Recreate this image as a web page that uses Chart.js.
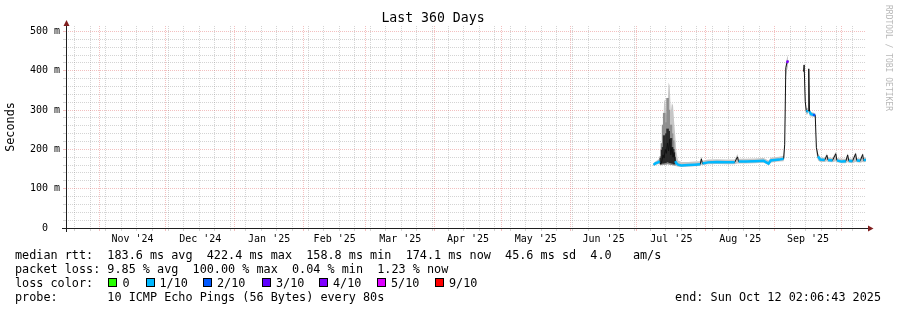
<!DOCTYPE html>
<html>
<head>
<meta charset="utf-8">
<title>Last 360 Days</title>
<script src="https://cdn.jsdelivr.net/npm/chart.js@4.4.1/dist/chart.umd.min.js"></script>
<style>
  html, body { margin: 0; padding: 0; background: #fff; }
  #wrap { position: relative; width: 897px; height: 310px; font-family: 'DejaVu Sans Mono', monospace; color: #000; }
  #wrap canvas { position: absolute; left: 0; top: 0; }
  .row { position: absolute; left: 15px; font-size: 11.8px; line-height: 14px; white-space: pre; }
  .sq { position: absolute; top: 278px; width: 7px; height: 7px; border: 1px solid #000; }
  .key { position: absolute; top: 275.5px; font-size: 11.8px; line-height: 14px; white-space: pre; }
  #end { position: absolute; right: 16px; top: 289.5px; font-size: 11.8px; line-height: 14px; white-space: pre; }
  #mark { position: absolute; left: 884px; top: 5px; font-size: 8px; line-height: 9px; color: #b8b8b8; writing-mode: vertical-rl; white-space: pre; }
</style>
</head>
<body>
<div id="wrap">
  <canvas id="graph" width="897" height="310"></canvas>
  <div class="row" style="top:247.5px">median rtt:  183.6 ms avg  422.4 ms max  158.8 ms min  174.1 ms now  45.6 ms sd  4.0   am/s</div>
  <div class="row" style="top:261.5px">packet loss: 9.85 % avg  100.00 % max  0.04 % min  1.23 % now</div>
  <div class="row" style="top:275.5px">loss color:</div>
  <div id="keys"></div>
  <div class="row" style="top:289.5px">probe:       10 ICMP Echo Pings (56 Bytes) every 80s</div>
  <div id="end">end: Sun Oct 12 02:06:43 2025</div>
  <div id="mark">RRDTOOL / TOBI OETIKER</div>
</div>
<script>
// time window
var endTime = Date.UTC(2025, 9, 12, 2, 6, 43);
var spanDays = 360;
var startTime = endTime - spanDays * 86400000;

// x axis: month starts and the labels centred in each month
var monthStarts = ['2024-11', '2024-12', '2025-01', '2025-02', '2025-03', '2025-04',
  '2025-05', '2025-06', '2025-07', '2025-08', '2025-09', '2025-10'];
var monthLabels = ["Nov '24", "Dec '24", "Jan '25", "Feb '25", "Mar '25", "Apr '25",
  "May '25", "Jun '25", "Jul '25", "Aug '25", "Sep '25"];

// y axis labels (ms)
var yTickValues = [0, 100, 200, 300, 400, 500];
var yTickLabels = ['0  ', '100 m', '200 m', '300 m', '400 m', '500 m'];

// median rtt (ms), loss (tenths) and smoke range
var times = ['2025-07-08T12', '2025-07-09T12', '2025-07-10T12', '2025-07-11T06', '2025-07-11T18',
  '2025-07-12T06', '2025-07-12T18', '2025-07-13T06', '2025-07-13T18', '2025-07-14T06',
  '2025-07-14T18', '2025-07-15T06', '2025-07-15T18', '2025-07-16T06', '2025-07-16T18',
  '2025-07-17T06', '2025-07-17T18', '2025-07-18T06', '2025-07-18T18', '2025-07-19T12',
  '2025-07-21T00', '2025-07-24T00', '2025-07-27T00', '2025-07-29T12', '2025-07-30T00',
  '2025-07-30T12', '2025-08-02T00', '2025-08-06T00', '2025-08-10T00', '2025-08-14T00',
  '2025-08-15T06', '2025-08-15T18', '2025-08-19T00', '2025-08-23T00', '2025-08-27T00',
  '2025-08-29T06', '2025-08-30T06', '2025-09-01T00', '2025-09-03T00', '2025-09-05T00',
  '2025-09-05T12', '2025-09-06T00', '2025-09-06T12', '2025-09-07T00', '2025-09-07T12',
  '2025-09-13T18', '2025-09-14T00', '2025-09-14T06', '2025-09-14T18', '2025-09-15T06',
  '2025-09-16T00', '2025-09-16T08', '2025-09-16T16', '2025-09-17T06', '2025-09-18T06',
  '2025-09-19T06', '2025-09-19T18', '2025-09-20T12', '2025-09-21T12', '2025-09-23T12',
  '2025-09-24T12', '2025-09-25T00', '2025-09-27T00', '2025-09-28T12', '2025-09-29T00',
  '2025-10-01T00', '2025-10-03T00', '2025-10-03T20', '2025-10-04T08', '2025-10-06T00',
  '2025-10-07T10', '2025-10-07T22', '2025-10-09T12', '2025-10-10T14', '2025-10-11T00',
  '2025-10-12T02'];
var medianRtt = [161, 165, 167, 170, 162,
  171, 186, 178, 200, 190,
  216, 196, 226, 186, 205,
  180, 192, 170, 165, 161,
  159, 160, 161, 162, 176,
  164, 167, 168, 167, 167,
  181, 169, 169, 170, 171,
  164, 172, 173, 174, 176,
  212, 408, 420, 426, null,
  null, 398, 415, 322, 296,
  298, 405, 296, 290, 288,
  287, 205, 182, 174, 173,
  185, 173, 172, 189, 172,
  169, 170, 186, 171, 170,
  189, 172, 171, 187, 172,
  174];
var lossTenths = [1, 1, 1, 1, 1,
  1, 1, 2, 1, 1,
  2, 1, 2, 1, 1,
  1, 1, 1, 1, 1,
  1, 1, 1, 1, 1,
  1, 1, 1, 1, 1,
  1, 1, 1, 1, 1,
  1, 1, 1, 1, 1,
  1, 2, 3, 4, 9,
  9, 9, 1, 1, 1,
  1, 1, 1, 1, 1,
  2, 1, 1, 1, 1,
  1, 1, 1, 1, 1,
  1, 1, 1, 1, 1,
  1, 1, 1, 1, 1,
  1];
var smokeMin = [158, 160, 162, 164, 158,
  160, 162, 160, 162, 160,
  163, 162, 164, 160, 161,
  160, 160, 158, 157, 156,
  155, 156, 157, 158, 160,
  160, 162, 163, 162, 162,
  164, 164, 164, 165, 166,
  160, 166, 168, 169, 170,
  180, 380, 400, 410, null,
  null, 390, 400, 300, 288,
  290, 380, 285, 284, 283,
  282, 190, 172, 168, 168,
  170, 168, 167, 170, 167,
  165, 165, 168, 166, 165,
  168, 167, 166, 168, 167,
  168];
var smokeMax = [166, 170, 174, 178, 172,
  200, 250, 322, 328, 285,
  305, 370, 362, 295, 318,
  312, 270, 235, 195, 172,
  168, 168, 169, 170, 182,
  171, 174, 175, 174, 174,
  188, 176, 176, 177, 178,
  172, 179, 180, 181, 184,
  240, 420, 432, 440, null,
  null, 405, 420, 335, 305,
  306, 412, 305, 296, 294,
  292, 215, 190, 180, 179,
  190, 180, 178, 194, 178,
  176, 176, 190, 177, 176,
  193, 178, 177, 191, 178,
  180];

// denser smoke during the July burst: [low, high] in ms
var burstTimes = ['2025-07-12T06', '2025-07-12T18', '2025-07-13T06', '2025-07-13T18', '2025-07-14T06',
  '2025-07-14T18', '2025-07-15T06', '2025-07-15T18', '2025-07-16T06', '2025-07-16T18',
  '2025-07-17T06', '2025-07-17T18', '2025-07-18T06'];
var burstMid = [[162, 182], [163, 215], [162, 262], [163, 292], [162, 250],
  [164, 268], [163, 330], [165, 300], [162, 245], [162, 262],
  [161, 240], [161, 222], [160, 192]];
var burstCore = [[165, 178], [166, 198], [165, 205], [168, 235], [166, 215],
  [170, 240], [168, 252], [170, 246], [166, 212], [167, 228],
  [165, 205], [165, 200], [163, 180]];

// loss colours
var lossKeys = [0, 1, 2, 3, 4, 5, 9];
var lossNames = ['0', '1/10', '2/10', '3/10', '4/10', '5/10', '9/10'];
var lossColors = { 0: '#26ff00', 1: '#00b8ff', 2: '#0059ff', 3: '#5e00ff', 4: '#7e00ff', 5: '#dd00ff', 9: '#ff0000' };

var MINOR = 'rgba(143,143,143,0.38)';
var MAJOR = 'rgba(222,79,79,0.36)';
var FONT = "'DejaVu Sans Mono', monospace";

// legend squares
var keyPos = [[108, 122.5], [146, 159.5], [203, 217], [262, 276], [319, 333], [377, 391], [435, 449]];
var keysDiv = document.getElementById('keys');
lossKeys.forEach(function (k, i) {
  var sq = document.createElement('div');
  sq.className = 'sq';
  sq.style.left = keyPos[i][0] + 'px';
  sq.style.background = lossColors[k];
  keysDiv.appendChild(sq);
  var lb = document.createElement('div');
  lb.className = 'key';
  lb.style.left = keyPos[i][1] + 'px';
  lb.textContent = lossNames[i];
  keysDiv.appendChild(lb);
});

function ms(t) { return Date.parse(t + ':00Z'); }
function monthMs(m) { var p = m.split('-'); return Date.UTC(+p[0], +p[1] - 1, 1); }

// x ticks: weekly lines, month lines, month labels
var tickKind = new Map();
var tickText = new Map();
(function () {
  var d = new Date(startTime);
  var t = Date.UTC(d.getUTCFullYear(), d.getUTCMonth(), d.getUTCDate());
  while (new Date(t).getUTCDay() !== 1 || t < startTime) t += 86400000;
  for (; t <= endTime; t += 7 * 86400000) tickKind.set(t, 'week');
  for (var i = 0; i < monthStarts.length; i++) {
    var m = monthMs(monthStarts[i]);
    if (m > startTime && m < endTime) tickKind.set(m, 'month');
    if (i < monthLabels.length) {
      var mid = (m + monthMs(monthStarts[i + 1])) / 2;
      if (mid > startTime && mid < endTime) {
        tickKind.set(mid, 'label');
        tickText.set(mid, monthLabels[i]);
      }
    }
  }
})();

var medianPts = times.map(function (t, i) { return { x: ms(t), y: medianRtt[i] }; });

var axesPlugin = {
  id: 'rrdAxes',
  afterDatasetsDraw: function (chart) {
    var ctx = chart.ctx, a = chart.chartArea;
    ctx.save();
    ctx.strokeStyle = '#1f1f1f';
    ctx.lineWidth = 1;
    ctx.beginPath();
    ctx.moveTo(a.left - 4, a.bottom + 0.5);
    ctx.lineTo(a.right + 3, a.bottom + 0.5);
    ctx.moveTo(a.left + 0.5, a.bottom + 4);
    ctx.lineTo(a.left + 0.5, a.top - 2);
    ctx.stroke();
    ctx.fillStyle = '#801f1f';
    ctx.beginPath();
    ctx.moveTo(a.right + 2, a.bottom - 2.5);
    ctx.lineTo(a.right + 7.5, a.bottom + 0.5);
    ctx.lineTo(a.right + 2, a.bottom + 3.5);
    ctx.closePath();
    ctx.fill();
    ctx.beginPath();
    ctx.moveTo(a.left - 2.5, a.top);
    ctx.lineTo(a.left + 0.5, a.top - 6);
    ctx.lineTo(a.left + 3.5, a.top);
    ctx.closePath();
    ctx.fill();
    ctx.restore();
  }
};

new Chart(document.getElementById('graph'), {
  type: 'line',
  data: {
    datasets: [
      {
        label: 'median (loss colour)',
        data: medianPts,
        borderWidth: 2.5,
        borderColor: lossColors[1],
        pointRadius: 0,
        fill: false,
        segment: {
          borderColor: function (c) {
            var dy = Math.abs(c.p1.y - c.p0.y), dx = Math.abs(c.p1.x - c.p0.x);
            if (dy > 2.5 && dy > dx * 1.5) return 'transparent';
            return lossColors[lossTenths[c.p1DataIndex]];
          }
        }
      },
      {
        label: 'median',
        data: medianPts,
        borderWidth: 1,
        borderColor: '#111111',
        pointRadius: 0,
        fill: false
      },
      {
        type: 'bar',
        label: 'smoke core',
        data: burstTimes.map(function (t, i) { return { x: ms(t), y: burstCore[i] }; }),
        backgroundColor: '#2a2a2a',
        barThickness: 2,
        stack: 'smoke'
      },
      {
        type: 'bar',
        label: 'smoke mid',
        data: burstTimes.map(function (t, i) { return { x: ms(t), y: burstMid[i] }; }),
        backgroundColor: '#8e8e8e',
        barThickness: 2,
        stack: 'smoke'
      },
      {
        label: 'smoke max',
        data: times.map(function (t, i) { return { x: ms(t), y: smokeMax[i] }; }),
        borderWidth: 0,
        pointRadius: 0,
        backgroundColor: '#c6c6c6',
        fill: 5
      },
      {
        label: 'smoke min',
        data: times.map(function (t, i) { return { x: ms(t), y: smokeMin[i] }; }),
        borderWidth: 0,
        pointRadius: 0,
        fill: false
      }
    ]
  },
  options: {
    responsive: false,
    animation: false,
    events: [],
    layout: { padding: { left: 0, right: 31, top: 0, bottom: 0 } },
    plugins: {
      legend: { display: false },
      tooltip: { enabled: false },
      title: {
        display: true,
        text: 'Last 360 Days',
        color: '#000',
        font: { family: FONT, size: 13.2, weight: 'normal', lineHeight: 1 },
        padding: { top: 12.4, bottom: 0.4 }
      }
    },
    scales: {
      x: {
        type: 'linear',
        min: startTime,
        max: endTime,
        offset: false,
        stacked: false,
        afterFit: function (s) { s.height = 82; },
        afterBuildTicks: function (s) {
          s.ticks = Array.from(tickKind.keys()).sort(function (a, b) { return a - b; })
            .map(function (v) { return { value: v }; });
        },
        ticks: {
          autoSkip: false,
          maxRotation: 0,
          minRotation: 0,
          padding: 2,
          color: '#000',
          font: { family: FONT, size: 10 },
          callback: function (v) { return tickText.get(v) || ''; }
        },
        grid: {
          offset: false,
          tickLength: 3,
          lineWidth: 1,
          color: function (c) {
            var k = c.tick && tickKind.get(c.tick.value);
            if (k === 'month') return MAJOR;
            if (k === 'week') return MINOR;
            return 'transparent';
          }
        },
        border: { display: false, dash: [1, 1] }
      },
      y: {
        min: 0,
        max: 514,
        stacked: false,
        afterFit: function (s) { s.width = 66; },
        afterBuildTicks: function (s) {
          var arr = [];
          for (var v = 0; v <= 500; v += 20) arr.push({ value: v });
          s.ticks = arr;
        },
        ticks: {
          autoSkip: false,
          padding: 3,
          color: '#000',
          font: { family: FONT, size: 10 },
          callback: function (v) {
            var i = yTickValues.indexOf(v);
            return i >= 0 ? yTickLabels[i] : '';
          }
        },
        grid: {
          tickLength: 3,
          lineWidth: 1,
          color: function (c) { return c.tick && c.tick.value % 100 === 0 ? MAJOR : MINOR; }
        },
        border: { display: false, dash: [1, 1] },
        title: {
          display: true,
          text: 'Seconds',
          color: '#000',
          font: { family: FONT, size: 11.8, weight: 'normal' },
          padding: { top: 4, bottom: 0 }
        }
      }
    }
  },
  plugins: [axesPlugin]
});
</script>
</body>
</html>
